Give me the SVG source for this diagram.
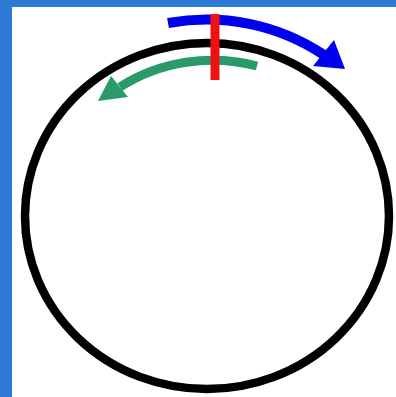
<svg xmlns="http://www.w3.org/2000/svg" width="396" height="397" viewBox="0 0 396 397">
<style>
.arc{fill:none;stroke-linecap:butt}
</style>
<rect x="0" y="0" width="396" height="397" fill="#2b7bd6"/>
<rect x="12" y="7" width="384" height="390" fill="#ffffff"/>
<g id="circle">
<ellipse cx="207" cy="216" rx="182" ry="173" fill="none" stroke="#000" stroke-width="8.5"/>
</g>
<g id="connectors">
<g id="blue-arrow">
<path class="arc" d="M168,23 A204,195 0 0 1 324,55" stroke="#0000ee" stroke-width="10"/>
<polygon points="345,69 334,40 313,66" fill="#0000ee"/>
</g>
<g id="green-arrow">
<path class="arc" d="M257,66 A165,155 0 0 0 120,87" stroke="#2a9a68" stroke-width="9"/>
<polygon points="98,101 111,76 128,97" fill="#2a9a68"/>
</g>
</g>
<g id="marker">
<line x1="215" y1="14" x2="215" y2="80" stroke="#ee1111" stroke-width="9"/>
</g>
</svg>
